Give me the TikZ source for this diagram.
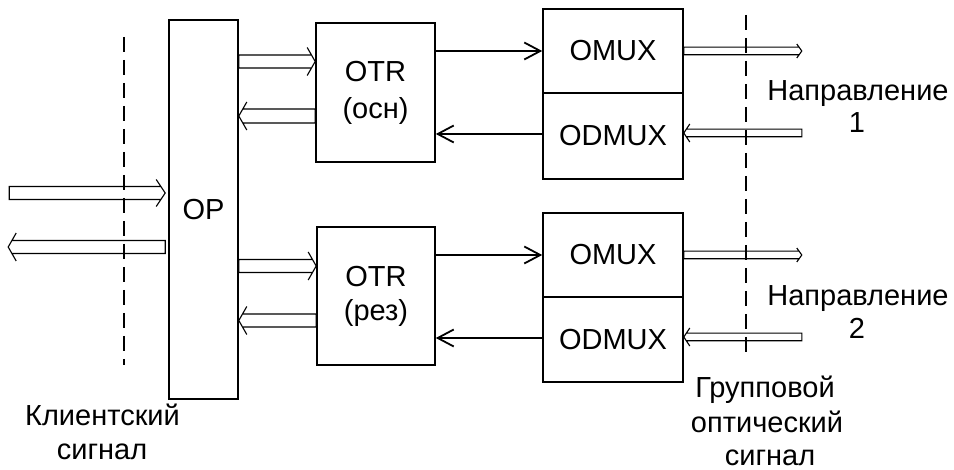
\documentclass[tikz,border=0pt]{standalone}
\usepackage{fontspec}
\setmainfont{Liberation Sans}
\usetikzlibrary{arrows.meta,calc}
\tikzset{
  box/.style={draw, line width=1.6pt, inner sep=0pt, font=\fontsize{29}{34}\selectfont, align=center},
  hollowline/.style={line width=1.1pt, line join=miter},
  thinarrow/.style={line width=1.8pt, -{Straight Barb[length=16pt,width=17pt,line width=1.8pt]}},
  divider/.style={line width=1.5pt, dash pattern=on 15pt off 8pt},
  lbl/.style={font=\fontsize{29}{33}\selectfont, anchor=base, inner sep=0pt},
}
% hollow arrow: #1 tail, #2 tip, #3 half shaft width, #4 half head width, #5 signed head length
\newcommand\hollowarrow[5]{%
  \draw[hollowline]
    ($(#2)+({-(#5)*(#3)/(#4)},{-(#3)})$) -- ($(#1)+(0,{-(#3)})$) -- ($(#1)+(0,#3)$) -- ($(#2)+({-(#5)*(#3)/(#4)},#3)$)
    ($(#2)+({-(#5)},{-(#4)})$) -- (#2) -- ($(#2)+({-(#5)},#4)$);
}
\begin{document}
\begin{tikzpicture}[x=1pt,y=-1pt]
\useasboundingbox (0,0) rectangle (954,470);

% boxes
\node[box, minimum width=69pt, minimum height=379pt] (OP) at (203.5,209.5) {OP};
\node[box, minimum width=119pt, minimum height=139pt] (OTR1) at (375.5,92.5) {OTR\\[3pt](осн)};
\node[box, minimum width=118pt, minimum height=138pt] (OTR2) at (376,296) {OTR\\(рез)};
\node[box, minimum width=140pt, minimum height=84pt] (OMUX1) at (613,51) {OMUX};
\node[box, minimum width=140pt, minimum height=86pt] (ODMUX1) at (613,136) {ODMUX};
\node[box, minimum width=140pt, minimum height=84pt] (OMUX2) at (613,255) {OMUX};
\node[box, minimum width=140pt, minimum height=85pt] (ODMUX2) at (613,339.5) {ODMUX};

% dashed boundaries
\draw[divider] (124,37) -- (124,365);
\draw[divider] (746,15) -- (746,353);

% client side hollow arrows
\coordinate (ciTip) at ($(OP.west)+(-3,-16.5)$);
\coordinate (ciTail) at ($(OP.west)+(-159,-16.5)$);
\hollowarrow{ciTail}{ciTip}{6.5}{13.5}{9}
\coordinate (coTail) at ($(OP.west)+(-3,37.5)$);
\coordinate (coTip) at ($(OP.west)+(-160,37.5)$);
\hollowarrow{coTail}{coTip}{6.5}{14}{-8}

% OP <-> OTR hollow arrows
\coordinate (a3tip) at ($(OTR1.west)+(0,-31)$);
\coordinate (a3tail) at (OP.east |- a3tip);
\hollowarrow{a3tail}{a3tip}{6.5}{14}{8}
\coordinate (a4tail) at ($(OTR1.west)+(0,23.5)$);
\coordinate (a4tip) at (OP.east |- a4tail);
\hollowarrow{a4tail}{a4tip}{7}{14}{-8}
\coordinate (a5tip) at ($(OTR2.west)+(0,-30)$);
\coordinate (a5tail) at (OP.east |- a5tip);
\hollowarrow{a5tail}{a5tip}{6.5}{14}{8}
\coordinate (a6tail) at ($(OTR2.west)+(0,24.5)$);
\coordinate (a6tip) at (OP.east |- a6tail);
\hollowarrow{a6tail}{a6tip}{6.5}{14}{-8}

% OTR <-> MUX thin arrows
\draw[thinarrow] (OTR1.east |- OMUX1.west) -- (OMUX1.west);
\coordinate (d1) at ($(ODMUX1.west)+(0,-2)$);
\draw[thinarrow] (d1) -- (OTR1.east |- d1);
\draw[thinarrow] (OTR2.east |- OMUX2.west) -- (OMUX2.west);
\coordinate (d2) at ($(ODMUX2.west)+(0,-1.5)$);
\draw[thinarrow] (d2) -- (OTR2.east |- d2);

% line side hollow arrows
\coordinate (o1tip) at ($(OMUX1.east)+(118,0)$);
\hollowarrow{OMUX1.east}{o1tip}{3.8}{7}{5}
\coordinate (i1tip) at ($(ODMUX1.east)+(0,-3)$);
\coordinate (i1tail) at ($(i1tip)+(118,0)$);
\hollowarrow{i1tail}{i1tip}{3.8}{9}{-6}
\coordinate (o2tip) at ($(OMUX2.east)+(118,0)$);
\hollowarrow{OMUX2.east}{o2tip}{3.8}{7}{5}
\coordinate (i2tip) at ($(ODMUX2.east)+(0,-2.5)$);
\coordinate (i2tail) at ($(i2tip)+(118,0)$);
\hollowarrow{i2tail}{i2tip}{3.8}{9}{-6}

% labels
\node[lbl] (dir1a) at (858,100.4) {Направление};
\node[lbl] (dir1b) at (857,132.4) {1};
\node[lbl] (dir2a) at (858,305.4) {Направление};
\node[lbl] (dir2b) at (857,338.4) {2};
\node[lbl] (grp1) at (765,398) {Групповой};
\node[lbl] (grp2) at (767,432) {оптический};
\node[lbl] (grp3) at (770,465) {сигнал};
\node[lbl] (cl1) at (102.5,425.5) {Клиентский};
\node[lbl] (cl2) at (102,459.5) {сигнал};
\end{tikzpicture}
\end{document}
